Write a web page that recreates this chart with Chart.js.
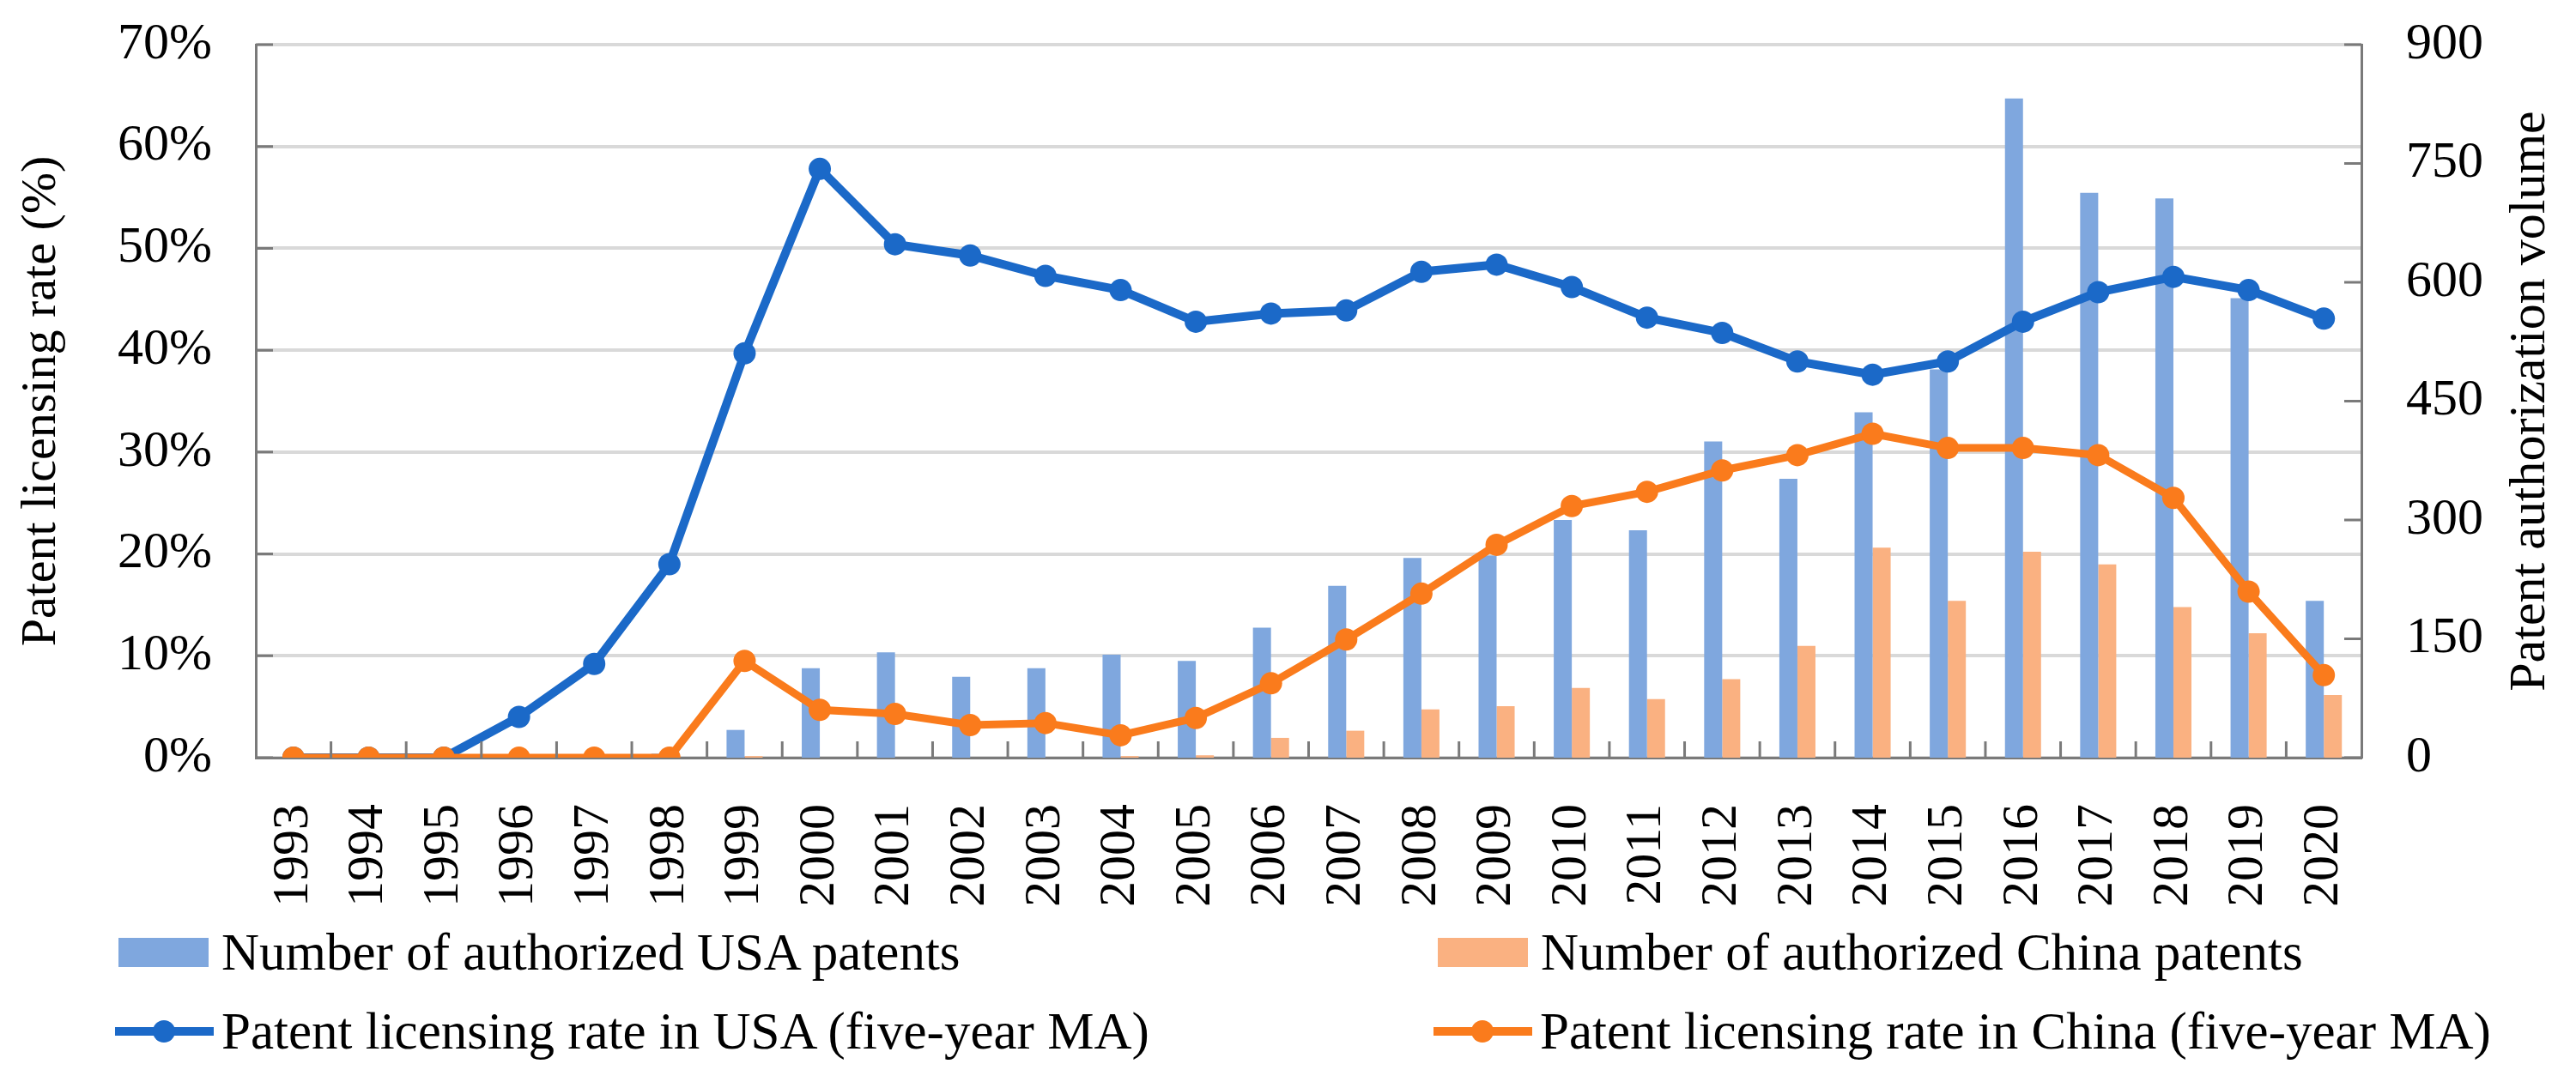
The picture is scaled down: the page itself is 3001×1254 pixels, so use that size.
<!DOCTYPE html>
<html>
<head>
<meta charset="utf-8">
<script src="https://cdn.jsdelivr.net/npm/chart.js@4.4.1/dist/chart.umd.min.js"></script>
<style>
  html, body { margin: 0; padding: 0; background: #fff; }
  #wrap { position: relative; width: 3001px; height: 1254px; }
  #legend { position: absolute; left: 0; top: 0; width: 100%; height: 100%; pointer-events: none;
            font-family: "Liberation Serif", "Times New Roman", serif; font-size: 61px; color: #000; }
  .item { position: absolute; display: flex; align-items: center; white-space: nowrap; height: 80px; }
  .box { width: 105px; height: 34px; margin-right: 15px; }
  .ln { position: relative; width: 115px; height: 30px; margin-right: 9px; }
  .ln .bar { position: absolute; left: 0; right: 0; top: 10px; height: 10px; }
  .ln .dot { position: absolute; left: 44px; top: 2px; width: 26px; height: 26px; border-radius: 50%; }
</style>
</head>
<body>
<div id="wrap">
  <canvas id="myChart"></canvas>
  <div id="legend"></div>
</div>
<script>
const years = ['1993', '1994', '1995', '1996', '1997', '1998', '1999', '2000', '2001', '2002',
               '2003', '2004', '2005', '2006', '2007', '2008', '2009', '2010', '2011', '2012',
               '2013', '2014', '2015', '2016', '2017', '2018', '2019', '2020'];

// patent counts (right axis)
const usaPatents = [0, 0, 0, 0, 0, 5, 35, 113, 133, 102,
                    113, 130, 122, 164, 217, 252, 255, 300, 287, 399,
                    352, 436, 490, 832, 713, 706, 580, 198];
const chinaPatents = [0, 0, 0, 0, 0, 0, 2, 0, 0, 0,
                      0, 2, 3, 25, 34, 61, 65, 88, 74, 99,
                      141, 265, 198, 260, 244, 190, 157, 79];

// licensing rate, five-year MA, in % (left axis)
const usaRate = [0, 0, 0, 4.0, 9.2, 19.0, 39.7, 57.8, 50.4, 49.3,
                 47.3, 45.9, 42.8, 43.6, 43.9, 47.7, 48.4, 46.2, 43.2, 41.7,
                 38.9, 37.6, 38.9, 42.8, 45.7, 47.2, 45.9, 43.1];
const chinaRate = [0, 0, 0, 0, 0, 0, 9.5, 4.7, 4.3, 3.2,
                   3.4, 2.2, 3.9, 7.3, 11.6, 16.1, 20.9, 24.7, 26.1, 28.2,
                   29.7, 31.8, 30.4, 30.4, 29.7, 25.5, 16.3, 8.1];

const leftTicks = [0, 10, 20, 30, 40, 50, 60, 70];
const rightTicks = [0, 150, 300, 450, 600, 750, 900];

const FONT = '"Liberation Serif", "Times New Roman", serif';
const axisColor = '#7a7a7a';
const tickFont = { family: FONT, size: 60 };

// Excel style: short tick marks pointing into the plot, and the right title read bottom-up
const insideTicks = {
    id: 'insideTicks',
    afterDraw(chart) {
        const { ctx, chartArea: a, scales } = chart;
        ctx.save();
        ctx.strokeStyle = axisColor;
        ctx.lineWidth = 3;
        ctx.beginPath();
        scales.yL.ticks.forEach(t => {
            const y = scales.yL.getPixelForValue(t.value);
            ctx.moveTo(a.left, y);
            ctx.lineTo(a.left + 20, y);
        });
        scales.yR.ticks.forEach(t => {
            const y = scales.yR.getPixelForValue(t.value);
            ctx.moveTo(a.right, y);
            ctx.lineTo(a.right - 20, y);
        });
        for (let i = 1; i < years.length; i++) {
            const x = scales.x.getPixelForValue(i - 0.5);
            ctx.moveTo(x, a.bottom);
            ctx.lineTo(x, a.bottom - 19);
        }
        ctx.stroke();

        ctx.translate(chart.width - 53, (a.top + a.bottom) / 2);
        ctx.rotate(-Math.PI / 2);
        ctx.fillStyle = '#000';
        ctx.font = '60px ' + FONT;
        ctx.textAlign = 'center';
        ctx.textBaseline = 'middle';
        ctx.fillText('Patent authorization volume', 0, 0);
        ctx.restore();
    }
};

// fixed axis box width; the label padding must not push the plot top down
function fitY(width) {
    return s => {
        s.width = width;
        s.paddingTop = 0;
        s.paddingBottom = 0;
    };
}

const ctx = document.getElementById('myChart');

const chart = new Chart(ctx, {
    type: 'bar',
    data: {
        labels: years,
        datasets: [
            {
                type: 'line',
                label: 'Patent licensing rate in China (five-year MA)',
                data: chinaRate,
                yAxisID: 'yL',
                borderColor: '#fa7b1c',
                backgroundColor: '#fa7b1c',
                borderWidth: 9,
                pointRadius: 13,
                pointBorderWidth: 0,
                order: 0
            },
            {
                type: 'line',
                label: 'Patent licensing rate in USA (five-year MA)',
                data: usaRate,
                yAxisID: 'yL',
                borderColor: '#1b69c8',
                backgroundColor: '#1b69c8',
                borderWidth: 10,
                pointRadius: 13,
                pointBorderWidth: 0,
                order: 1
            },
            {
                label: 'Number of authorized USA patents',
                data: usaPatents,
                yAxisID: 'yR',
                backgroundColor: '#7fa7de',
                categoryPercentage: 0.48,
                barPercentage: 1.0,
                order: 2
            },
            {
                label: 'Number of authorized China patents',
                data: chinaPatents,
                yAxisID: 'yR',
                backgroundColor: '#fab181',
                categoryPercentage: 0.48,
                barPercentage: 1.0,
                order: 2
            }
        ]
    },
    options: {
        responsive: true,
        maintainAspectRatio: false,
        animation: false,
        layout: { padding: { left: 0, right: 0, top: 52, bottom: 181 } },
        plugins: { legend: { display: false }, tooltip: { enabled: false } },
        scales: {
            x: {
                offset: true,
                grid: { display: false, drawTicks: false },
                border: { color: axisColor, width: 3 },
                ticks: { font: tickFont, color: '#000', minRotation: 90, maxRotation: 90,
                         autoSkip: false, padding: 54 },
                afterFit: s => { s.height = 190; }
            },
            yL: {
                position: 'left',
                min: 0,
                max: 70,
                afterBuildTicks: s => { s.ticks = leftTicks.map(v => ({ value: v })); },
                ticks: { font: tickFont, color: '#000', padding: 51, callback: v => v + '%' },
                grid: { color: '#d9d9d9', lineWidth: 4, drawTicks: false },
                border: { color: axisColor, width: 3 },
                title: { display: true, text: 'Patent licensing rate (%)', color: '#000',
                         font: { family: FONT, size: 58 }, padding: { top: 14, bottom: 0 } },
                afterFit: fitY(298)
            },
            yR: {
                position: 'right',
                min: 0,
                max: 900,
                afterBuildTicks: s => { s.ticks = rightTicks.map(v => ({ value: v })); },
                ticks: { font: tickFont, color: '#000', padding: 52 },
                grid: { display: false, drawTicks: false },
                border: { color: axisColor, width: 3 },
                afterFit: fitY(250)
            }
        }
    },
    plugins: [insideTicks]
});

// legend in two columns, like the original
const legendPlaces = {
    'Number of authorized USA patents': [138, 1110],
    'Number of authorized China patents': [1675, 1110],
    'Patent licensing rate in USA (five-year MA)': [134, 1202],
    'Patent licensing rate in China (five-year MA)': [1670, 1202]
};
const legend = document.getElementById('legend');
chart.data.datasets.forEach(ds => {
    const [x, y] = legendPlaces[ds.label];
    const item = document.createElement('div');
    item.className = 'item';
    item.style.left = x + 'px';
    item.style.top = (y - 40) + 'px';
    let marker;
    if (ds.type === 'line') {
        marker = document.createElement('div');
        marker.className = 'ln';
        marker.innerHTML = '<div class="bar" style="background:' + ds.borderColor + '"></div>' +
                           '<div class="dot" style="background:' + ds.borderColor + '"></div>';
    } else {
        marker = document.createElement('div');
        marker.className = 'box';
        marker.style.background = ds.backgroundColor;
    }
    const text = document.createElement('span');
    text.textContent = ds.label;
    item.appendChild(marker);
    item.appendChild(text);
    legend.appendChild(item);
});
</script>
</body>
</html>
